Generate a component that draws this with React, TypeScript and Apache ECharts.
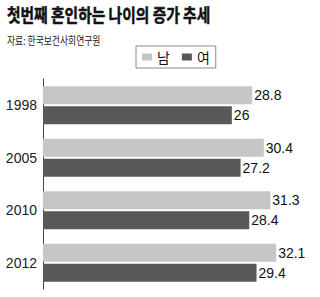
import React, { useEffect, useRef } from "react";
import * as echarts from "echarts";

const titleText = "첫번째 혼인하는 나이의 증가 추세";
const sourceText = "자료: 한국보건사회연구원";
const years = ["1998", "2005", "2010", "2012"];
const seriesNames = ["남", "여"];
const maleValues = [28.8, 30.4, 31.3, 32.1];
const femaleValues = [26, 27.2, 28.4, 29.4];

const KR = "Noto Sans CJK KR";
const NUM = "Arial, Helvetica, sans-serif";

export default function App() {
  const ref = useRef<HTMLDivElement>(null);
  useEffect(() => {
    if (!ref.current) return;
    const chart = echarts.init(ref.current, undefined, { renderer: "svg" });
    chart.setOption({
      animation: false,
      backgroundColor: "#ffffff",
      textStyle: { fontFamily: NUM },
      graphic: [
        {
          type: "text",
          x: 7,
          y: 5,
          scaleX: 0.82,
          style: {
            text: titleText,
            fontFamily: KR,
            fontWeight: "bold",
            fontSize: 18,
            fill: "#111111",
            stroke: "#111111",
            lineWidth: 0.5,
            textVerticalAlign: "top",
          },
        },
        {
          type: "text",
          x: 7,
          y: 35,
          scaleX: 0.8,
          style: {
            text: sourceText,
            fontFamily: KR,
            fontSize: 11,
            fill: "#222222",
            textVerticalAlign: "top",
          },
        },
      ],
      legend: {
        data: seriesNames,
        left: 136,
        top: 46,
        orient: "horizontal",
        padding: [4, 6, 4, 6],
        borderColor: "#8a8a8a",
        borderWidth: 1,
        itemWidth: 10,
        itemHeight: 7,
        itemGap: 12,
        icon: "rect",
        textStyle: { fontFamily: KR, fontSize: 14, color: "#111111" },
      },
      grid: { left: 43, right: 1, top: 79, height: 210 },
      xAxis: {
        type: "value",
        min: 0,
        max: 38,
        show: false,
        splitLine: { show: false },
      },
      yAxis: {
        type: "category",
        data: years,
        inverse: true,
        axisLine: { show: true, lineStyle: { color: "#444444", width: 1 } },
        axisTick: { show: false },
        axisLabel: {
          fontFamily: NUM,
          fontSize: 14,
          color: "#222222",
          margin: 6,
        },
      },
      series: [
        {
          name: seriesNames[0],
          type: "bar",
          data: maleValues,
          barWidth: 18,
          barGap: "11%",
          itemStyle: { color: "#c6c6c6" },
          label: {
            show: true,
            position: "right",
            distance: 2,
            fontFamily: NUM,
            fontSize: 14,
            color: "#111111",
          },
        },
        {
          name: seriesNames[1],
          type: "bar",
          data: femaleValues,
          barWidth: 18,
          itemStyle: { color: "#585858" },
          label: {
            show: true,
            position: "right",
            distance: 2,
            fontFamily: NUM,
            fontSize: 14,
            color: "#111111",
          },
        },
      ],
    });
    return () => chart.dispose();
  }, []);
  return (
    <div
      ref={ref}
      style={{ position: "absolute", left: 0, top: 0, width: 320, height: 297 }}
    />
  );
}
